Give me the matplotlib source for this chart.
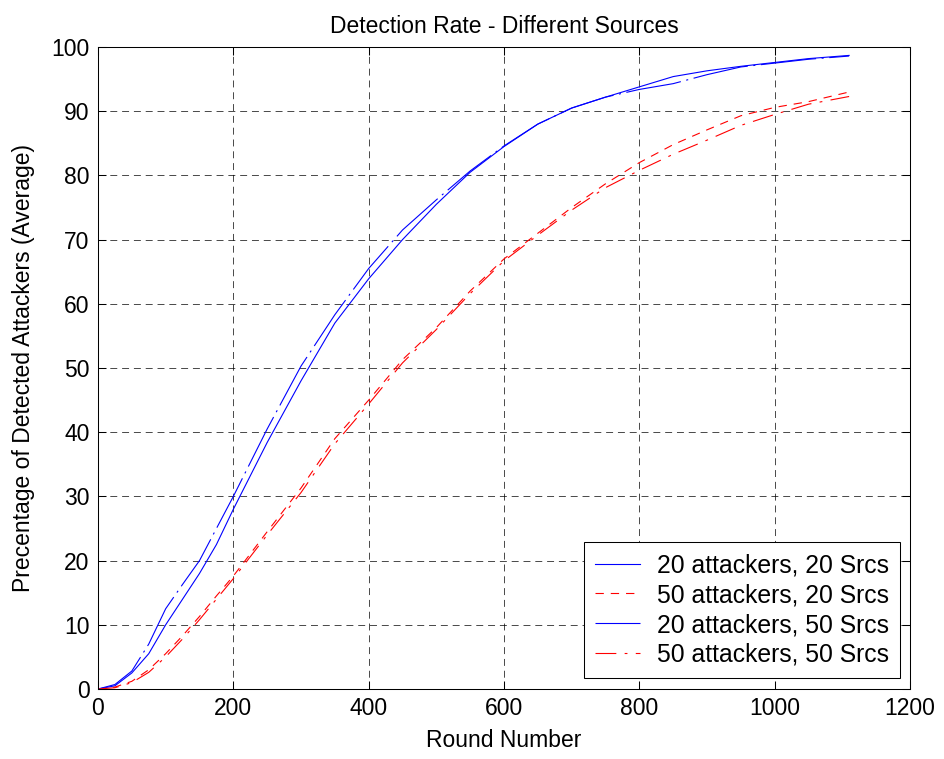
import numpy as np
import matplotlib
matplotlib.use("Agg")
import matplotlib.pyplot as plt

# detection curves, averaged over runs
rounds = [0, 25, 50, 75, 100, 125, 150, 175, 200, 250, 300, 350, 400, 450,
          500, 550, 600, 650, 700, 750, 800, 850, 900, 950, 1000, 1050, 1110]

att20_src20 = [0, 0.5, 2.5, 5.5, 10, 14, 18, 22.5, 28, 38.4, 48, 57, 63.9, 70,
               75.5, 80.5, 84.5, 88, 90.5, 92.2, 93.8, 95.4, 96.3, 97, 97.6, 98.2, 98.7]
att50_src20 = [0, 0.3, 1.2, 3, 5.5, 8.3, 11.3, 14.5, 17.6, 24.5, 31.3, 39, 45, 51.3,
               56.3, 62, 67, 71, 75, 78.7, 82, 84.8, 87.1, 89.3, 90.6, 91.5, 93.0]
att20_src50 = [0, 0.7, 2.8, 7, 12.5, 16.3, 20, 25, 30, 40.5, 50.3, 58.3, 65.5, 71.5,
               76.2, 80.7, 84.6, 88, 90.5, 92.2, 93.4, 94.3, 95.7, 96.9, 97.5, 98.1, 98.6]
att50_src50 = [0, 0.2, 1, 2.6, 5, 7.8, 10.8, 14, 17.2, 24, 30.6, 38.2, 44.4, 50.8,
               56, 61.6, 66.7, 70.7, 74.6, 78.1, 80.8, 83.3, 85.5, 87.8, 89.5, 91.1, 92.3]

labels = ["20 attackers, 20 Srcs", "50 attackers, 20 Srcs",
          "20 attackers, 50 Srcs", "50 attackers, 50 Srcs"]

plt.rcParams["font.family"] = ["Liberation Sans", "DejaVu Sans"]
plt.rcParams["lines.scale_dashes"] = False

fig = plt.figure(figsize=(9.44, 7.59), dpi=100)
ax = fig.add_axes([0.1038, 0.0922, 0.8602, 0.8458])

ax.plot(rounds, att20_src20, color="blue", lw=0.8, linestyle="-", label=labels[0])
ax.plot(rounds, att50_src20, color="red", lw=0.8, linestyle=(0, (6, 5)), label=labels[1])
ax.plot(rounds, att20_src50, color="blue", lw=0.8, linestyle=(0, (40, 4, 1.5, 4)), label=labels[2])
ax.plot(rounds, att50_src50, color="red", lw=0.8, linestyle=(0, (15, 6, 2, 6)), label=labels[3])

ax.set_xlim(0, 1200)
ax.set_ylim(0, 100)
ax.set_xticks(np.arange(0, 1201, 200))
ax.set_yticks(np.arange(0, 101, 10))
ax.grid(True, color="black", linestyle=(0, (5, 3.5)), linewidth=0.5)
ax.tick_params(direction="in", length=6, width=0.75, labelsize=16.5, pad=6,
               top=True, right=True)
for sp in ax.spines.values():
    sp.set_linewidth(0.75)

ax.set_title("Detection Rate - Different Sources", fontsize=16.5, pad=10)
ax.set_xlabel("Round Number", fontsize=16.5, labelpad=6)
ax.set_ylabel("Precentage of Detected Attackers (Average)", fontsize=16.5, labelpad=12)

leg = ax.legend(loc="lower right", bbox_to_anchor=(0.988, 0.017), borderaxespad=0,
                fontsize=17.8, fancybox=False, framealpha=1, edgecolor="black",
                handlelength=1.8, handletextpad=0.7, labelspacing=0.24,
                borderpad=0.45)
leg.get_frame().set_linewidth(0.75)

fig.savefig("out.png", dpi=100)
